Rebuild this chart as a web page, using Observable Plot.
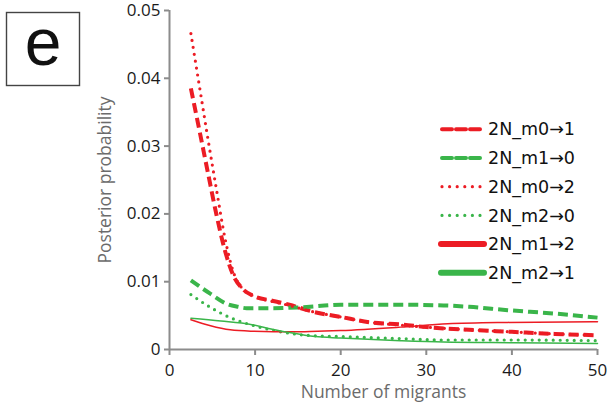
<!DOCTYPE html>
<html>
<head>
<meta charset="utf-8">
<script src="https://cdn.jsdelivr.net/npm/d3@7"></script>
<script src="https://cdn.jsdelivr.net/npm/@observablehq/plot@0.6"></script>
<style>
  body { margin: 0; background: #fff; }
  #chart { width: 612px; height: 416px; }
</style>
</head>
<body>
<div id="chart"></div>
<script>
// Posterior probability of the number of migrants, per migration direction.
const xTicks = [0, 10, 20, 30, 40, 50];
const yTicks = [0, 0.01, 0.02, 0.03, 0.04, 0.05];

// 2N_m0→1
const m01_x = [2.5, 3.5, 4.5, 5.5, 6.5, 7.5, 8.5, 10, 12, 14, 17, 20, 23.5, 27, 30, 35, 40, 45, 50];
const m01_p = [0.0385, 0.0323, 0.026, 0.0198, 0.0145, 0.0108, 0.009, 0.0078, 0.0072, 0.0066, 0.0055, 0.0048, 0.004, 0.0037, 0.0033, 0.0029, 0.0026, 0.0023, 0.0021];
// 2N_m1→0
const m10_x = [2.5, 4.8, 6.75, 8, 9, 12, 15, 17.3, 20, 27, 32, 35, 39.5, 45, 50];
const m10_p = [0.0102, 0.0082, 0.0067, 0.0063, 0.0061, 0.0061, 0.0062, 0.0064, 0.0066, 0.0066, 0.0065, 0.0063, 0.0058, 0.0053, 0.0047];
// 2N_m0→2
const m02_x = [2.5, 3.5, 4.5, 5.5, 6.5, 7.5, 8.5, 10, 12, 14, 17, 20, 23.5, 27, 30, 35, 40, 45, 50];
const m02_p = [0.0466, 0.0388, 0.031, 0.0235, 0.0163, 0.0113, 0.009, 0.0078, 0.0071, 0.0065, 0.0055, 0.0048, 0.004, 0.0036, 0.0033, 0.0029, 0.0026, 0.0023, 0.0021];
// 2N_m2→0
const m20_x = [2.5, 4.8, 7.1, 9.9, 12.2, 16, 20, 27, 32, 40, 50];
const m20_p = [0.0081, 0.0062, 0.0047, 0.0035, 0.0028, 0.0021, 0.0019, 0.0016, 0.0014, 0.0014, 0.0013];
// 2N_m1→2
const m12_x = [2.5, 4.8, 7.1, 9.5, 14.5, 17.3, 20, 27, 32.5, 39.5, 50];
const m12_p = [0.0044, 0.0035, 0.0029, 0.0027, 0.0026, 0.0027, 0.0028, 0.0033, 0.0038, 0.004, 0.0041];
// 2N_m2→1
const m21_x = [2.5, 6, 9.5, 12, 14, 17, 20, 27, 32, 40, 50];
const m21_p = [0.0046, 0.0042, 0.0037, 0.003, 0.0025, 0.0019, 0.0017, 0.0013, 0.0011, 0.001, 0.0009];

const RED = "#ec1c24";
const GREEN = "#3ab54a";

const series = [
  { label: "2N_m0\u21921", x: m01_x, p: m01_p, color: RED,   kind: "dashed" },
  { label: "2N_m1\u21920", x: m10_x, p: m10_p, color: GREEN, kind: "dashed" },
  { label: "2N_m0\u21922", x: m02_x, p: m02_p, color: RED,   kind: "dotted" },
  { label: "2N_m2\u21920", x: m20_x, p: m20_p, color: GREEN, kind: "dotted" },
  { label: "2N_m1\u21922", x: m12_x, p: m12_p, color: RED,   kind: "solid" },
  { label: "2N_m2\u21921", x: m21_x, p: m21_p, color: GREEN, kind: "solid" }
];

const lineStyle = {
  dashed: { strokeWidth: 4,   strokeDasharray: "10,5", strokeLinecap: "butt" },
  dotted: { strokeWidth: 3.2, strokeDasharray: "0,7",  strokeLinecap: "round" },
  solid:  { strokeWidth: 1.5, strokeDasharray: null,   strokeLinecap: "round" }
};
const legendStyle = {
  dashed: { width: 4,   dash: "10,4", cap: "round" },
  dotted: { width: 3.2, dash: "0,7.6", cap: "round" },
  solid:  { width: 6,   dash: null,   cap: "round" }
};

const lineMarks = series.map(s => {
  const rows = s.x.map((x, i) => ({ x, p: s.p[i] }));
  const st = lineStyle[s.kind];
  return Plot.line(rows, {
    x: "x", y: "p", stroke: s.color, curve: "monotone-x",
    strokeWidth: st.strokeWidth,
    strokeDasharray: st.strokeDasharray,
    strokeLinecap: st.strokeLinecap
  });
});

const AXIS = "#8c8c8c";

const plot = Plot.plot({
  width: 612,
  height: 416,
  marginLeft: 169,
  marginRight: 15,
  marginTop: 10,
  marginBottom: 67,
  x: { domain: [0, 50] },
  y: { domain: [0, 0.05] },
  style: { fontFamily: "'Open Sans', sans-serif", fontSize: "17px", color: "#1a1a1a", background: "#fff", overflow: "visible" },
  marks: [
    Plot.axisX({
      ticks: xTicks, tickSize: 6, tickPadding: 8, fontSize: 17,
      label: "Number of migrants", labelAnchor: "center", labelOffset: 48, labelArrow: "none"
    }),
    Plot.axisY({
      ticks: yTicks, tickSize: 5, tickPadding: 4, fontSize: 17,
      tickFormat: d => d === 0 ? "0" : d.toFixed(2),
      label: "Posterior probability", labelAnchor: "center", labelOffset: 71, labelArrow: "none"
    }),
    Plot.ruleY([0], { stroke: AXIS, strokeWidth: 2 }),
    Plot.ruleX([0], { stroke: AXIS, strokeWidth: 2 }),
    ...lineMarks
  ]
});

document.getElementById("chart").appendChild(plot);

const svg = d3.select(plot);
// tick marks in grey, axis titles in a lighter grey
svg.selectAll('[aria-label="x-axis tick"] path, [aria-label="y-axis tick"] path, [aria-label="x-axis tick"], [aria-label="y-axis tick"]')
  .attr("stroke", AXIS).attr("stroke-width", 2);
svg.selectAll('[aria-label="x-axis label"], [aria-label="y-axis label"]')
  .attr("fill", "#6b6b6b").style("font-size", "17.5px");

// panel letter
const panel = svg.append("g");
panel.append("rect")
  .attr("x", 6.5).attr("y", 12.5).attr("width", 73).attr("height", 73)
  .attr("fill", "none").attr("stroke", "#444").attr("stroke-width", 1.4);
panel.append("text")
  .attr("x", 43).attr("y", 65)
  .attr("text-anchor", "middle")
  .style("font-family", "'Liberation Sans', Arial, sans-serif")
  .style("font-size", "66px")
  .attr("fill", "#111")
  .text("e");

// legend
const legend = svg.append("g").attr("text-anchor", "start");
const rowY0 = 129.3, rowStep = 28.7;
series.forEach((s, i) => {
  const y = rowY0 + i * rowStep;
  const ls = legendStyle[s.kind];
  const x1 = s.kind === "solid" ? 441 : 442;
  const x2 = s.kind === "solid" ? 484 : 480;
  legend.append("line")
    .attr("x1", x1).attr("x2", x2).attr("y1", y).attr("y2", y)
    .attr("stroke", s.color).attr("stroke-width", ls.width)
    .attr("stroke-linecap", ls.cap)
    .attr("stroke-dasharray", ls.dash);
  legend.append("text")
    .attr("x", 488).attr("y", y).attr("dy", "0.35em")
    .attr("text-anchor", "start")
    .style("font-family", "'DejaVu Sans', sans-serif")
    .style("font-size", "17.5px")
    .attr("fill", "#111")
    .text(s.label);
});
</script>
</body>
</html>
